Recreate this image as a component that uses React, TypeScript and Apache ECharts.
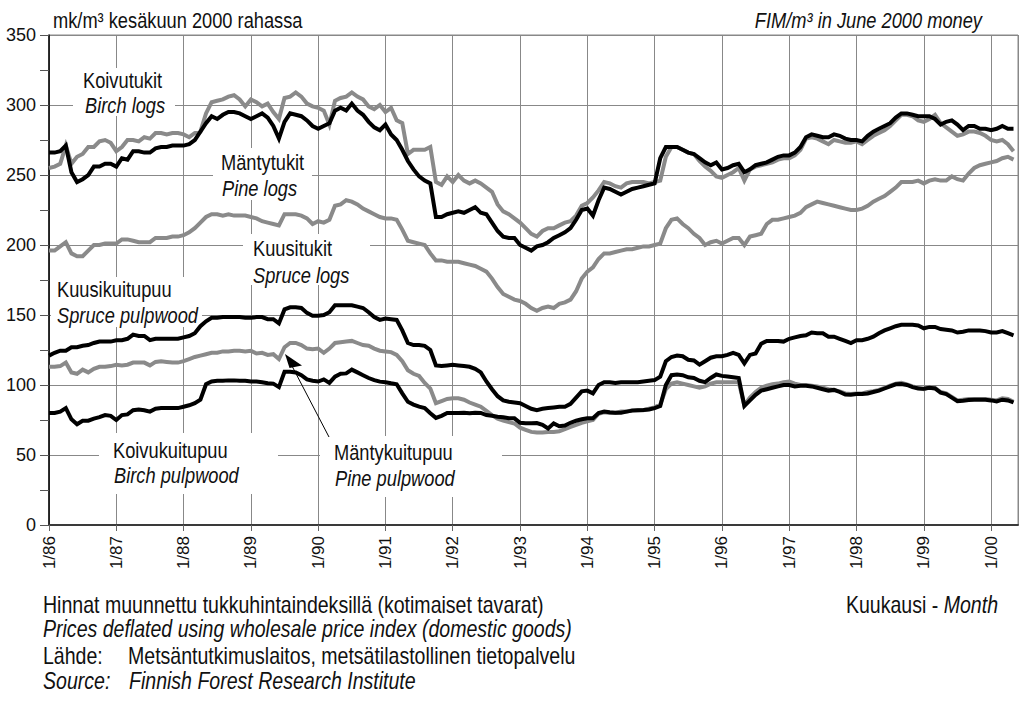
import React, { useEffect, useRef } from "react";
import * as echarts from "echarts";

// Monthly real prices, FIM/m3 (June 2000 money), Jan 1986 .. May 2000
const birchLogs = [
  266, 266, 267, 271, 252, 245, 247, 250, 256, 256, 258, 258,
  256, 262, 261, 267, 267, 266, 266, 269, 270, 270, 271, 271,
  271, 272, 275, 281, 287, 292, 290, 293, 295, 295, 294, 292,
  290, 292, 294, 291, 285, 276, 288, 294, 293, 292, 289, 285,
  283, 285, 287, 296, 298, 296, 301, 296, 293, 288, 284, 282,
  286, 279, 275, 268, 260, 254, 249, 246, 244, 220, 220, 222,
  223, 224, 223, 225, 227, 223, 222, 216, 210, 206, 205, 205,
  200, 198, 196, 199, 200, 202, 205, 207, 209, 212, 218, 225,
  226, 221, 232, 241, 240, 238, 236, 238, 240, 241, 242, 243,
  244, 262, 270, 270, 270, 268, 266, 265, 262, 259, 257, 259,
  254, 255, 257, 258, 252, 254, 257, 258, 259, 261, 263, 264,
  264, 266, 270, 277, 279, 278, 277, 277, 279, 278, 276, 275,
  275, 274, 278, 281, 283, 285, 287, 291, 294, 294, 293, 292,
  292, 292, 290, 286, 288, 289, 286, 282, 285, 285, 283, 283,
  282, 283, 285, 283, 283,
];
const pineLogs = [
  255, 256, 258, 271, 258, 263, 265, 270, 270, 274, 275, 273,
  267, 270, 275, 275, 274, 277, 276, 280, 280, 279, 280, 280,
  279, 277, 280, 281, 294, 302, 303, 304, 306, 307, 304, 299,
  304, 302, 299, 301, 295, 290, 305, 306, 309, 306, 301, 299,
  298, 296, 286, 303, 305, 306, 309, 306, 304, 299, 297, 300,
  295, 298, 289, 287, 265, 268, 268, 268, 270, 245, 243, 249,
  245, 250, 246, 244, 246, 244, 241, 238, 229, 224, 222, 219,
  216, 212, 208, 206, 210, 212, 212, 214, 216, 217, 221, 228,
  230, 234, 239, 245, 244, 242, 241, 244, 245, 245, 245, 244,
  245, 246, 263, 270, 270, 268, 266, 265, 260, 256, 253, 249,
  248, 250, 252, 255, 246, 254, 256, 257, 258, 259, 261, 262,
  262, 264, 268, 276, 277, 276, 274, 272, 275, 274, 273, 273,
  274, 272, 275, 278, 280, 282, 285, 289, 293, 293, 292, 289,
  288, 290, 293, 287, 284, 281, 278, 279, 281, 281, 280, 278,
  275, 274, 275, 272, 267,
];
const spruceLogs = [
  196, 196, 199, 202, 194, 192, 192, 196, 200, 200, 201, 201,
  201, 204, 204, 203, 202, 202, 202, 205, 205, 205, 206, 206,
  207, 209, 212, 216, 220, 222, 222, 221, 222, 221, 221, 221,
  220, 219, 217, 216, 215, 214, 222, 222, 222, 221, 219, 215,
  217, 216, 218, 228, 229, 232, 231, 229, 226, 224, 222, 220,
  219, 219, 218, 211, 203, 202, 201, 200, 194, 189, 189, 188,
  188, 188, 187, 186, 185, 183, 181, 176, 170, 165, 163, 161,
  160, 158, 155, 153, 155, 156, 155, 158, 159, 161, 167, 176,
  181, 184, 190, 194, 194, 195, 196, 197, 197, 198, 199, 199,
  200, 201, 212, 218, 219, 215, 212, 208, 205, 200, 202, 203,
  201, 203, 205, 205, 200, 206, 207, 208, 215, 218, 218, 219,
  220, 221, 223, 227, 229, 231, 230, 229, 228, 227, 226, 225,
  225, 226, 228, 231, 233, 235, 238, 241, 245, 245, 245, 246,
  244, 246, 247, 246, 246, 249, 247, 246, 251, 255, 257, 258,
  259, 260, 262, 263, 261,
];
const sprucePulp = [
  121, 123, 124.5, 124.5, 127, 127, 128, 128.5, 130, 131, 131, 131,
  132, 132, 133, 136, 135, 135, 132, 133, 133, 133, 133, 133,
  134, 135, 137, 142, 145.5, 148, 148, 148.5, 148.5, 148.5, 148.5, 148,
  148, 148.5, 148.5, 147, 147, 144, 154, 155.5, 155.5, 155, 151.5, 149.5,
  149.5, 150, 152, 157, 157, 157, 157, 156, 155, 152, 148.5, 146.5,
  147.5, 147, 146.5, 139, 130, 128.5, 128.5, 128, 125, 114, 113.5, 114,
  114.5, 114, 113.5, 113, 111.5, 109, 102.5, 97, 92, 89, 88, 87.5,
  87, 85, 83, 82, 83, 83.5, 84, 84.5, 84.5, 86.5, 91, 95.5,
  96, 94, 100, 102, 102, 101.5, 102, 102, 102, 102, 102.5, 103,
  103.5, 106, 117, 120, 121, 120.5, 118, 117.5, 114.5, 117, 119.5, 120.5,
  120.5, 121.5, 123, 121.5, 115.5, 121.5, 122.5, 129.5, 131.5, 131.5, 131.5, 131,
  133, 134, 135, 135.5, 137.5, 137, 137, 134.5, 134.5, 133, 131.5, 130,
  132, 132, 133, 134.5, 137, 139, 140.5, 142, 143, 143, 143, 142.5,
  140.5, 141.5, 141.5, 140, 139.5, 139, 137.5, 138, 139, 139, 139, 138.5,
  137.5, 137.5, 138.5, 137, 135.5,
];
const pinePulp = [
  113, 113, 113.5, 116, 109, 108, 111, 109, 111.5, 113, 113, 113.5,
  114.5, 114, 114.5, 116, 116, 116, 114, 116.5, 117, 116.5, 116, 116,
  117, 118.5, 120, 121, 122, 123, 123, 124, 124, 124.5, 124.5, 124,
  124.5, 122.5, 123, 121.5, 122, 118.5, 127, 130, 130, 128.5, 126, 125.5,
  126, 123, 126, 130, 130.5, 131, 131.5, 130, 128.5, 128, 126, 124.5,
  124, 123.5, 121.5, 117, 110.5, 108, 106.5, 101.5, 97.5, 87, 88.5, 90,
  90.5, 90.5, 89.5, 87.5, 86, 84.5, 81.5, 78.5, 76, 74.5, 73.5, 72.5,
  69.5, 68, 66.5, 66, 66, 66.5, 66.5, 67, 68.5, 70, 71.5, 73,
  74, 75, 79.5, 80.5, 80, 80, 81, 81, 82, 82, 82, 83,
  84, 86, 97, 101, 102, 101, 100, 99, 98, 99, 101, 102,
  102, 102, 102, 102, 85.5, 91, 95, 98, 99.5, 100.5, 101, 102,
  102.5, 101, 100, 100, 99.5, 99, 98, 97, 96.5, 95.5, 94, 93.5,
  94, 94, 95, 95.5, 96.5, 98, 99.5, 101, 101.5, 100.5, 99, 98,
  97, 98.5, 98, 95, 94, 91.5, 89, 89.5, 90, 90, 90, 90,
  89.5, 89, 90.5, 90, 88,
];
const birchPulp = [
  80, 80, 81, 83.5, 75.5, 72, 74.5, 74.5, 76, 77, 78.5, 78,
  75, 78.5, 79, 82, 82.5, 82, 81, 83, 83.5, 83.5, 83.5, 83.5,
  84.5, 85.5, 87, 89.5, 100.5, 102.5, 103, 103, 103.3, 103.3, 103, 103,
  102.5, 102.5, 102, 101.2, 101, 98.5, 109.5, 109.5, 109, 107, 104, 103,
  102.5, 104, 101.5, 106, 108, 108.3, 111, 109, 107, 105, 103.5, 102.4,
  102, 101.2, 100.5, 94, 88, 86, 84.5, 83.5, 79.8, 76.5, 78, 80,
  80, 80, 80.2, 79.8, 80.2, 80, 78.5, 78, 77.4, 77, 76.2, 76.2,
  73, 72.6, 72.6, 72.8, 71.5, 69, 72.6, 70.5, 71, 73, 74.5, 75.5,
  76.2, 76.2, 80, 81, 80.5, 80.2, 80.2, 81, 81.7, 82, 82.1, 82.5,
  83.5, 85, 100, 107, 107.5, 107, 105.5, 105, 103, 102, 105, 107.5,
  106.5, 106, 105.5, 105, 85, 89, 93, 96, 97, 98, 99, 100,
  100, 99, 99.5, 99.5, 99, 98, 97, 96, 96.5, 95, 93.2, 93,
  93.5, 93.6, 94, 95, 96, 97.5, 99, 100.5, 100.7, 100, 98.5, 97.5,
  97.4, 98, 97.5, 94.5, 93.5, 91, 88.5, 88.8, 89.3, 89.5, 89.5, 89.5,
  89, 88.3, 89.5, 89, 87.5,
];

const FIRST_YEAR = 86;
const Y_MIN = 0;
const Y_MAX = 350;
const X_MAX = 172.8;

const FONT = "'Liberation Sans', Arial, Helvetica, sans-serif";
const GRAY = "#8a8a8a";
const BLACK = "#000000";

const pairs = (arr: number[]) => arr.map((v, i) => [i, v]);

const fontN = (s: number) => `${s}px ${FONT}`;
const fontI = (s: number) => `italic ${s}px ${FONT}`;

// narrow look: horizontally compressed Liberation Sans
function txt(x: number, y: number, text: string, font: string, sx = 0.83, align = "left", z = 5) {
  return {
    type: "text",
    x,
    y,
    z,
    scaleX: sx,
    silent: true,
    style: {
      text,
      font,
      fill: "#111",
      align,
      verticalAlign: "middle",
      textAlign: align,
      textVerticalAlign: "middle",
    },
  };
}

function box(x: number, y: number, w: number, h: number) {
  return {
    type: "rect",
    z: 1,
    silent: true,
    shape: { x, y, width: w, height: h },
    style: { fill: "#ffffff" },
  };
}

const LBL = 22;
const FN = 23;
const FNX = 0.85;

const graphics: any[] = [
  // titles
  txt(53, 20, "mk/m³ kesäkuun 2000 rahassa", fontN(22)),
  txt(982, 20, "FIM/m³ in June 2000 money", fontI(22), 0.83, "right"),
  // series labels with white boxes
  box(73, 68, 102, 48),
  txt(83, 80, "Koivutukit", fontN(LBL)),
  txt(85, 105, "Birch logs", fontI(LBL)),
  box(213, 148, 99, 52),
  txt(221, 162, "Mäntytukit", fontN(LBL)),
  txt(222, 188, "Pine logs", fontI(LBL)),
  box(243, 234, 127, 51),
  txt(253, 248, "Kuusitukit", fontN(LBL)),
  txt(253, 275, "Spruce logs", fontI(LBL)),
  box(51, 277, 151, 50),
  txt(57, 289, "Kuusikuitupuu", fontN(LBL)),
  txt(57, 315, "Spruce pulpwood", fontI(LBL)),
  box(99, 433, 179, 61),
  txt(113, 450, "Koivukuitupuu", fontN(LBL)),
  txt(114, 475, "Birch pulpwood", fontI(LBL)),
  box(320, 436, 182, 61),
  txt(334, 452, "Mäntykuitupuu", fontN(LBL)),
  txt(335, 478, "Pine pulpwood", fontI(LBL)),
  // arrow to pine pulpwood
  {
    type: "line",
    z: 6,
    silent: true,
    shape: { x1: 329, y1: 437, x2: 292, y2: 366 },
    style: { stroke: "#000", lineWidth: 1 },
  },
  {
    type: "polygon",
    z: 6,
    silent: true,
    shape: { points: [[285, 354], [302, 365.5], [289.5, 368]] },
    style: { fill: "#000" },
  },
  // footnotes
  txt(43, 605, "Hinnat muunnettu tukkuhintaindeksillä (kotimaiset tavarat)", fontN(FN), FNX),
  txt(43, 629, "Prices deflated using wholesale price index (domestic goods)", fontI(FN), FNX),
  txt(43, 656, "Lähde:", fontN(FN), FNX),
  txt(128, 656, "Metsäntutkimuslaitos, metsätilastollinen tietopalvelu", fontN(FN), FNX),
  txt(43, 681, "Source:", fontI(FN), FNX),
  txt(129, 681, "Finnish Forest Research Institute", fontI(FN), FNX),
  {
    type: "text",
    x: 998,
    y: 605,
    z: 5,
    scaleX: FNX,
    silent: true,
    style: {
      text: "{a|Kuukausi - }{b|Month}",
      align: "right",
      verticalAlign: "middle",
      textAlign: "right",
      textVerticalAlign: "middle",
      fill: "#111",
      font: fontN(FN),
      rich: {
        a: { font: fontN(FN), fill: "#111" },
        b: { font: fontI(FN), fill: "#111" },
      },
    },
  },
];

const lineSeries = (name: string, arr: number[], color: string, z: number) => ({
  name,
  type: "line",
  data: pairs(arr),
  showSymbol: false,
  symbol: "none",
  z,
  silent: true,
  lineStyle: { color, width: 4, join: "miter" },
});

const option: any = {
  animation: false,
  backgroundColor: "#ffffff",
  grid: {
    left: 49,
    right: 2,
    top: 35,
    bottom: 177,
    show: true,
    borderColor: "#888",
    borderWidth: 1,
  },
  xAxis: {
    type: "value",
    min: 0,
    max: X_MAX,
    interval: 12,
    axisLine: { show: true, lineStyle: { color: "#3a3a3a", width: 2 } },
    axisTick: { show: true, length: 6, lineStyle: { color: "#666" } },
    axisLabel: {
      rotate: 90,
      margin: 11,
      fontFamily: FONT,
      fontSize: 17,
      color: "#111",
      showMaxLabel: false,
      formatter: (v: number) => {
        if (Math.abs(v % 12) > 1e-6) return "";
        const yy = (FIRST_YEAR + v / 12) % 100;
        return "1/" + String(yy).padStart(2, "0");
      },
    },
    splitLine: { show: true, lineStyle: { color: "#888", width: 1 } },
  },
  yAxis: {
    type: "value",
    min: Y_MIN,
    max: Y_MAX,
    interval: 50,
    axisLine: { show: true, lineStyle: { color: "#000", width: 1.5 } },
    axisTick: { show: true, length: 9, lineStyle: { color: "#555" } },
    minorTick: { show: true, splitNumber: 2, length: 9, lineStyle: { color: "#555" } },
    axisLabel: {
      margin: 13,
      fontFamily: FONT,
      fontSize: 18,
      color: "#111",
    },
    splitLine: { show: true, lineStyle: { color: "#888", width: 1 } },
  },
  graphic: { elements: graphics },
  series: [
    lineSeries("Mäntytukit", pineLogs, GRAY, 3),
    lineSeries("Kuusitukit", spruceLogs, GRAY, 3),
    lineSeries("Mäntykuitupuu", pinePulp, GRAY, 3),
    lineSeries("Koivutukit", birchLogs, BLACK, 4),
    lineSeries("Kuusikuitupuu", sprucePulp, BLACK, 4),
    lineSeries("Koivukuitupuu", birchPulp, BLACK, 4),
  ],
};

export default function App() {
  const ref = useRef<HTMLDivElement>(null);
  useEffect(() => {
    if (!ref.current) return;
    const chart = echarts.init(ref.current, undefined, { renderer: "svg" });
    chart.setOption(option);
    return () => chart.dispose();
  }, []);
  return (
    <div
      ref={ref}
      style={{ position: "fixed", left: 0, top: 0, width: 1020, height: 702, background: "#fff" }}
    />
  );
}
